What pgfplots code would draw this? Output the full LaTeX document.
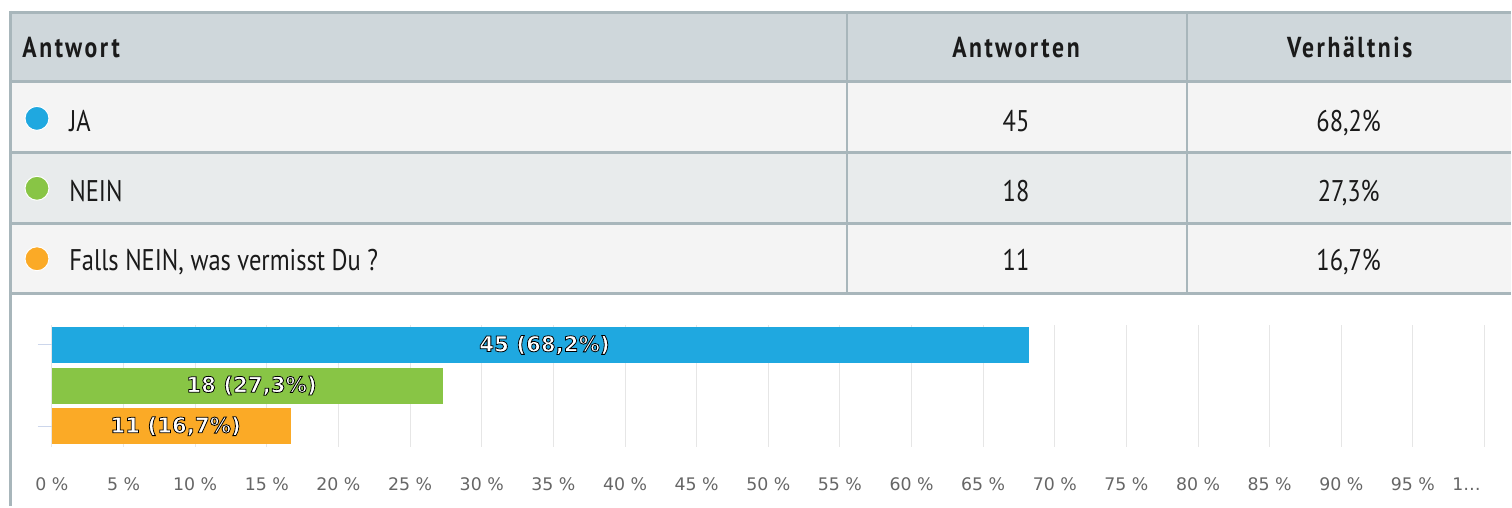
\documentclass[border=0pt]{standalone}
\usepackage{fontspec}
\setmainfont{PT Sans}[FakeStretch=0.82]
\newfontfamily\headfont{PT Sans}[FakeStretch=0.82, LetterSpace=9]
\newfontfamily\dejavu{DejaVu Sans}
\newfontfamily\dejavub{DejaVu Sans Bold}
\usepackage{pgfplots}
\pgfplotsset{compat=1.18}

\definecolor{ja}{HTML}{1FA8E0}
\definecolor{nein}{HTML}{88C545}
\definecolor{falls}{HTML}{FBAA26}
\definecolor{hdr}{HTML}{CFD7DB}
\definecolor{rulec}{HTML}{A8B6BB}
\definecolor{rowa}{HTML}{F4F4F4}
\definecolor{rowb}{HTML}{E8EBEC}
\definecolor{gridc}{HTML}{E6E6E6}
\definecolor{tickc}{HTML}{CCD6EB}
\definecolor{lbl}{HTML}{666666}
\definecolor{txt}{HTML}{1A1A1A}

% white text with a black outline: fill white, stroke black (text render mode 2)
\newcommand\outl[1]{{\color{white}\special{pdf:literal direct 0 G 2 Tr 0.4 w}#1\special{pdf:literal direct 0 Tr}}}

\begin{document}
\begin{tikzpicture}
% table, in pixel units of the reference (y pointing down)
\begin{scope}[x=0.5bp, y=-0.5bp]
  \fill[white] (0,0) rectangle (1512,507);
  \fill[hdr]  (10,12)  rectangle (1512,82);
  \fill[rowa] (10,82)  rectangle (1512,153);
  \fill[rowb] (10,153) rectangle (1512,224);
  \fill[rowa] (10,224) rectangle (1512,294);
  \foreach \yy in {12.5,82,153,224,294}
    \draw[rulec, line width=1.5bp] (10,\yy) -- (1512,\yy);
  \draw[rulec, line width=1.5bp] (10.5,11) -- (10.5,507);
  \draw[rulec, line width=1.2bp] (848,12) -- (848,294);
  \draw[rulec, line width=1.2bp] (1188,12) -- (1188,294);

  \begin{scope}[every node/.style={inner sep=0pt, text=txt}]
  \node[anchor=base west, font=\headfont\bfseries\fontsize{14.5}{16}\selectfont] at (22,58) {Antwort};
  \node[anchor=base, font=\headfont\bfseries\fontsize{14.5}{16}\selectfont] at (1017,58) {Antworten};
  \node[anchor=base, font=\headfont\bfseries\fontsize{14.5}{16}\selectfont] at (1351,58) {Verhältnis};

  \node[anchor=base west, font=\fontsize{15}{17}\selectfont] at (69,132) {JA};
  \node[anchor=base west, font=\fontsize{15}{17}\selectfont] at (69,202) {NEIN};
  \node[anchor=base west, font=\fontsize{15}{17}\selectfont] at (69,271) {Falls NEIN, was vermisst Du ?};

  \node[anchor=base, font=\fontsize{15}{17}\selectfont] at (1017,132) {45};
  \node[anchor=base, font=\fontsize{15}{17}\selectfont] at (1017,202) {18};
  \node[anchor=base, font=\fontsize{15}{17}\selectfont] at (1017,271) {11};
  \node[anchor=base, font=\fontsize{15}{17}\selectfont] at (1350,132) {68,2\%};
  \node[anchor=base, font=\fontsize{15}{17}\selectfont] at (1350,202) {27,3\%};
  \node[anchor=base, font=\fontsize{15}{17}\selectfont] at (1350,271) {16,7\%};
  \end{scope}

  \fill[ja,    draw=white, line width=0.5bp] (37,118.5) circle[radius=12];
  \fill[nein,  draw=white, line width=0.5bp] (37,188.5) circle[radius=12];
  \fill[falls, draw=white, line width=0.5bp] (37,259)   circle[radius=12];
\end{scope}

\begin{axis}[
    at={(26bp,-223.5bp)}, anchor=south west,
    scale only axis,
    width=717bp, height=61bp,
    xmin=0, xmax=100,
    ymin=-0.5, ymax=2.5,
    xbar,
    bar width=18bp,
    axis line style={draw=none},
    xmajorgrids,
    major grid style={gridc, line width=0.5bp},
    xtick={0,5,...,95},
    xticklabel={\pgfmathprintnumber{\tick}~\%},
    extra x ticks={100},
    extra x tick labels={\makebox[0pt]{\hspace{-18bp}1…}},
    extra x tick style={grid=major},
    xtick style={draw=none},
    ytick={0,2},
    yticklabels={},
    ytick style={draw=tickc, line width=0.5bp},
    tick align=outside,
    major tick length=7bp,
    xtick pos=bottom, ytick pos=left,
    /pgf/number format/assume math mode=true,
    xticklabel style={font=\dejavu\fontsize{8.7}{10}\selectfont, text=lbl, anchor=base, yshift=-15bp, inner sep=0pt},
    point meta=explicit symbolic,
    nodes near coords={\outl{\pgfplotspointmeta}},
    visualization depends on={x \as \rawx},
    every node near coord/.append style={anchor=center, inner sep=0pt,
        font=\dejavub\fontsize{10.7}{12}\selectfont, xshift=2bp,
        shift={(axis direction cs:-\rawx/2,0)}},
]
\addplot[fill=ja,    draw=none, bar shift=0pt] coordinates {(68.2,2) [45 (68,2\%)]};
\addplot[fill=nein,  draw=none, bar shift=0pt] coordinates {(27.3,1) [18 (27,3\%)]};
\addplot[fill=falls, draw=none, bar shift=0pt] coordinates {(16.7,0) [11 (16,7\%)]};
\end{axis}
\end{tikzpicture}
\end{document}
